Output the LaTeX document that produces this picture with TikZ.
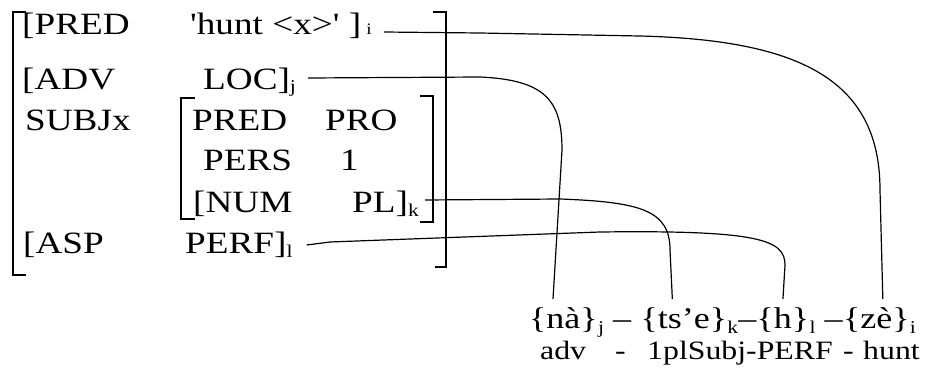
\documentclass[tikz,border=0pt]{standalone}
\usepackage{fontspec}
\setmainfont{Liberation Serif}[Ligatures=TeXOff,FakeStretch=1.2]
\newcommand\lsub[2][4pt]{\raisebox{-#1}{\fontsize{18}{20}\selectfont #2}}
\newcommand\bsub[1]{{\fontsize{16}{18}\selectfont #1}}
\begin{document}
\begin{tikzpicture}[x=1pt,y=-1pt,
  txt/.style={anchor=base west,inner sep=0pt,font=\fontsize{31}{36}\selectfont},
  form/.style={anchor=base west,inner sep=0pt,font=\fontsize{30}{36}\selectfont},
  gl/.style={anchor=base west,inner sep=0pt,font=\fontsize{26.5}{30}\selectfont},
  brk/.style={line width=1.3pt,line cap=rect},
  link/.style={line width=1.2pt}]
\useasboundingbox (0,0) rectangle (927,375);
% matrix text
\node[txt] (pred) at (22,34) {[PRED};
\node[txt] (hunt) at (190,34) {'hunt <x>' ]\,\bsub{i}};
\node[txt] (adv) at (22,89) {[ADV};
\node[txt] (loc) at (203,89) {LOC]\lsub[3pt]{j}};
\node[txt] (subj) at (25,130) {SUBJx};
\node[txt] (ipred) at (192,130) {PRED};
\node[txt] (pro) at (325,130) {PRO};
\node[txt] (pers) at (203,170) {PERS};
\node[txt] (one) at (340,170) {1};
\node[txt] (num) at (193,212) {[NUM};
\node[txt] (pl) at (352,212) {PL]\lsub{k}};
\node[txt] (asp) at (23,253) {[ASP};
\node[txt] (perf) at (185,253) {PERF]\lsub{l}};
% brackets
\draw[brk] (25,12) -- (13,12) -- (13,275) -- (25,275);
\draw[brk] (434,12) -- (446,12) -- (446,267) -- (436,267);
\draw[brk] (194,98) -- (181,98) -- (181,219) -- (194,219);
\draw[brk] (421,96) -- (433,96) -- (433,222) -- (421,222);
% bottom forms
\node[form] (na) at (529,328) {\{nà\}};
\node[form] (r1) at (na.base east) {\lsub[5pt]{j}\kern9pt–\kern9pt\null};
\node[form] (tse) at (r1.base east) {\{ts’e\}};
\node[form] (r2) at (tse.base east) {\lsub[5pt]{k}–};
\node[form] (h) at (r2.base east) {\{h\}};
\node[form] (r3) at (h.base east) {\lsub[5pt]{l}\kern9pt–};
\node[form] (ze) at (r3.base east) {\{zè\}};
\node[form] (r4) at (ze.base east) {\lsub[5pt]{i}};
% gloss
\node[gl] (g1) at (540,359) {adv};
\node[gl] (g2) at (615,359) {-};
\node[gl] (g3) at (647,359) {1plSubj-PERF};
\node[gl] (g4) at (843,359) {-};
\node[gl] (g5) at (863,359) {hunt};
% connectors
\draw[link] ([xshift=12pt,yshift=2pt]hunt.base east) -- (480,33) -- (640,36)
  .. controls (800,40) and (880,80) .. (880,190) -- ([xshift=40pt,yshift=8pt]ze.north west);
\draw[link] ([xshift=12pt]loc.base east |- 0,78) -- (480,77)
  .. controls (545,80) and (562,100) .. (562,150) -- ([xshift=24pt,yshift=8pt]na.north west);
\draw[link] ([xshift=6pt]pl.east |- 0,200) -- (560,199)
  .. controls (640,202) and (670,210) .. (670,250) -- ([xshift=32pt,yshift=8pt]tse.north west);
\draw[link] ([xshift=14pt]perf.base east |- 0,245) -- (330,242) -- (410,239) -- (600,232)
  .. controls (760,230) and (785,240) .. (785,265) -- ([yshift=8pt]h.north);
\end{tikzpicture}
\end{document}
